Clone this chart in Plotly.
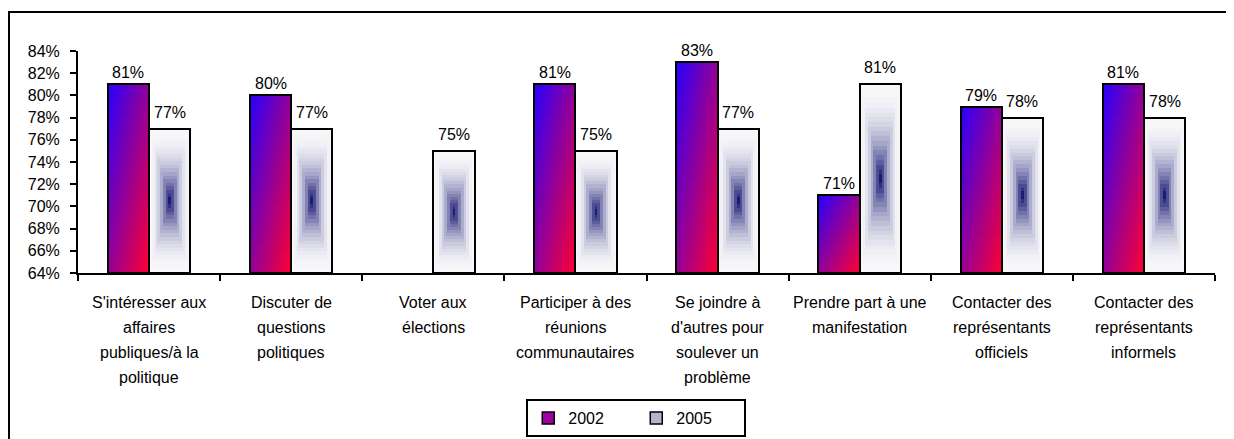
import plotly.graph_objects as go

# categories (line breaks as in the original chart)
categories = [
    "S'intéresser aux<br>affaires<br>publiques/à la<br>politique",
    "Discuter de<br>questions<br>politiques",
    "Voter aux<br>élections",
    "Participer à des<br>réunions<br>communautaires",
    "Se joindre à<br>d'autres pour<br>soulever un<br>problème",
    "Prendre part à une<br>manifestation",
    "Contacter des<br>représentants<br>officiels",
    "Contacter des<br>représentants<br>informels",
]
values_2002 = [81, 80, None, 81, 83, 71, 79, 81]
values_2005 = [77, 77, 75, 75, 77, 81, 78, 78]
y_ticks = [64, 66, 68, 70, 72, 74, 76, 78, 80, 82, 84]

AXIS_MIN = 64
BAR_W = 0.29
FONT = "Liberation Sans, Arial, sans-serif"

BLUE = (40, 0, 255)
RED = (255, 0, 48)
WHITE = (248, 248, 250)
NAVY = (14, 14, 110)


def lerp(c1, c2, t):
    return "rgb(%d,%d,%d)" % tuple(round(a + (b - a) * t) for a, b in zip(c1, c2))


# 2002: diagonal gradient, blue top-left -> red bottom-right
def colour_2002(xn, yn):
    return lerp(BLUE, RED, (xn + 1 - yn) / 2)


# 2005: rectangular gradient from the centre, navy -> white
def colour_2005(xn, yn):
    d = 1 - max(abs(xn - 0.5) * 2, abs(yn - 0.5) * 2)
    return lerp(WHITE, NAVY, max(d, 0) ** 2.2)


# gradient fill: each bar split into small cells, one trace per series
def gradient_fill(vals, offset0, ncol, nrow, colour_at):
    xs, ys, bases, offs, cols = [], [], [], [], []
    for cat, v in zip(categories, vals):
        if v is None:
            continue
        h = (v - AXIS_MIN) / nrow
        for j in range(nrow):
            for i in range(ncol):
                xs.append(cat)
                ys.append(h)
                bases.append(AXIS_MIN + j * h)
                offs.append(offset0 + i * BAR_W / ncol)
                cols.append(colour_at((i + 0.5) / ncol, (j + 0.5) / nrow))
    return go.Bar(x=xs, y=ys, base=bases, offset=offs, width=BAR_W / ncol,
                  marker=dict(color=cols, line_width=0), showlegend=False, hoverinfo="skip")


fig = go.Figure()
fig.add_trace(gradient_fill(values_2002, -BAR_W, 12, 18, colour_2002))
fig.add_trace(gradient_fill(values_2005, 0, 15, 40, colour_2005))

# outlines + value labels
for vals, off, name, shift in [(values_2002, -BAR_W, "2002", 1), (values_2005, 0, "2005", 6)]:
    fig.add_trace(go.Bar(
        x=categories,
        y=[None if v is None else v - AXIS_MIN for v in vals],
        base=AXIS_MIN, offset=off, width=BAR_W,
        marker=dict(color="rgba(0,0,0,0)", line=dict(color="black", width=2)),
        showlegend=False, hovertext=[None if v is None else "%s: %d%%" % (name, v) for v in vals],
        hoverinfo="text"))
    for k, v in enumerate(vals):
        if v is None:
            continue
        fig.add_annotation(x=k + off + BAR_W / 2, y=v, xref="x", yref="y",
                           text="%d%%" % v, showarrow=False, yanchor="bottom", yshift=shift,
                           font=dict(size=16, color="black", family=FONT))

# legend-only entries
fig.add_trace(go.Bar(x=categories, y=[None] * len(categories), name="2002",
                     marker=dict(color="#a0009e", line=dict(color="black", width=1.5))))
fig.add_trace(go.Bar(x=categories, y=[None] * len(categories), name="2005",
                     marker=dict(color="#b4b4cc", line=dict(color="black", width=1.5))))

# category labels, one line each
for cat in categories:
    for k, line in enumerate(cat.split("<br>")):
        fig.add_annotation(x=cat, y=0, xref="x", yref="paper", text=line, showarrow=False,
                           yanchor="middle", yshift=-(29 + 25 * k),
                           font=dict(size=16, color="black", family=FONT))

# outer frame
fig.add_shape(type="rect", xref="paper", yref="paper", x0=-0.0607, x1=1.0141, y0=-0.8, y1=1.1757,
              line=dict(color="black", width=2), fillcolor="rgba(0,0,0,0)")

# page body adds an 8px margin, so the figure is 8px smaller than the window
fig.update_layout(
    width=1226, height=431,
    margin=dict(l=70, r=19, t=43, b=166, autoexpand=False),
    paper_bgcolor="white", plot_bgcolor="white",
    barmode="overlay", bargap=0, bargroupgap=0,
    font=dict(family=FONT, size=16, color="black"),
    legend=dict(orientation="h", x=0.491, xanchor="center", y=-0.654, yanchor="middle",
                bordercolor="black", borderwidth=2, bgcolor="white",
                font=dict(size=16, color="black"), entrywidth=63),
    xaxis=dict(type="category", categoryorder="array", categoryarray=categories,
               showticklabels=False, showline=True, linecolor="black", linewidth=2,
               ticks="outside", tickson="boundaries", ticklen=6, tickwidth=2, tickcolor="black",
               showgrid=False, zeroline=False, range=[-0.5, len(categories) - 0.5]),
    yaxis=dict(range=[AXIS_MIN, 84], tickvals=y_ticks, ticktext=["%d%%" % t for t in y_ticks],
               showline=True, linecolor="black", linewidth=2, ticks="outside", ticklen=6, tickwidth=2,
               tickcolor="black", showgrid=False, zeroline=False, ticklabelstandoff=7,
               tickfont=dict(size=16, color="black")),
)

fig.write_html("out.html")
